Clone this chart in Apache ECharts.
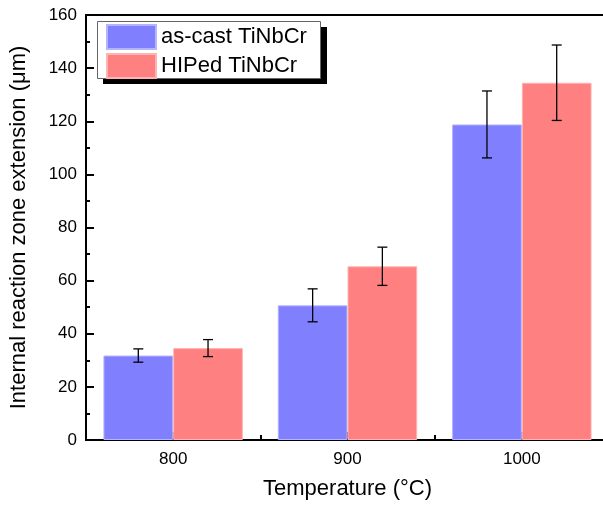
<!DOCTYPE html>
<html>
<head>
<meta charset="utf-8">
<script src="https://cdn.jsdelivr.net/npm/echarts@6/dist/echarts.min.js"></script>
<style>html,body{margin:0;padding:0;background:#fff}#c{width:603px;height:505px}</style>
</head>
<body>
<div id="c"></div>
<script>
var categories = ['800', '900', '1000'];
var seriesNames = ['as-cast TiNbCr', 'HIPed TiNbCr'];
var asCastValues = [31.8, 50.7, 118.8];
var asCastErrors = [2.5, 6.2, 12.6];
var hipedValues = [34.6, 65.4, 134.5];
var hipedErrors = [3.2, 7.2, 14.2];
var yTicks = [0, 20, 40, 60, 80, 100, 120, 140, 160];

var FONT = 'Liberation Sans, Arial, sans-serif';
var chart = echarts.init(document.getElementById('c'), null, {renderer: 'canvas'});

function errData(vals, errs) {
  return vals.map(function (v, i) { return [i, v, errs[i]]; });
}
function errRender(side) {
  return function (params, api) {
    var idx = api.value(0), v = api.value(1), e = api.value(2);
    var band = api.size([1, 0])[0];
    var off = side * band * 0.8 / 4;
    var top = api.coord([idx, v + e]);
    var bot = api.coord([idx, v - e]);
    var x = top[0] + off;
    var cap = 5;
    var st = {stroke: '#000', lineWidth: 1.3};
    return {
      type: 'group',
      children: [
        {type: 'line', shape: {x1: x, y1: top[1], x2: x, y2: bot[1]}, style: st},
        {type: 'line', shape: {x1: x - cap, y1: top[1], x2: x + cap, y2: top[1]}, style: st},
        {type: 'line', shape: {x1: x - cap, y1: bot[1], x2: x + cap, y2: bot[1]}, style: st}
      ]
    };
  };
}

var option = {
  animation: false,
  backgroundColor: '#fff',
  textStyle: {fontFamily: FONT},
  grid: {left: 86, width: 523, top: 15, bottom: 65, outerBoundsMode: 'none', containLabel: false,
         show: true, borderColor: '#000', borderWidth: 2},
  graphic: [
    {type: 'rect', left: 103, top: 27, z: 90, shape: {width: 224, height: 57}, style: {fill: '#000'}, silent: true},
    {type: 'rect', left: 97, top: 21, z: 91, shape: {width: 223, height: 57}, style: {fill: '#fff', stroke: '#666', lineWidth: 1}, silent: true}
  ],
  legend: {
    data: seriesNames,
    orient: 'vertical',
    left: 97, top: 21,
    z: 100, zlevel: 0,
    itemWidth: 49, itemHeight: 24, itemGap: 3,
    padding: [3, 12, 4, 9],
    icon: 'rect',
    textStyle: {fontSize: 22, color: '#000', fontFamily: FONT, lineHeight: 24}
  },
  xAxis: [{
    type: 'category',
    data: categories,
    position: 'bottom',
    name: 'Temperature (°C)',
    nameLocation: 'middle',
    nameGap: 38,
    nameTextStyle: {fontSize: 22, color: '#000', fontFamily: FONT},
    axisLine: {show: true, lineStyle: {color: '#000', width: 2}},
    axisTick: {show: true, inside: true, alignWithLabel: true, length: 8, lineStyle: {color: '#000', width: 2}},
    axisLabel: {fontSize: 17, color: '#000', margin: 11, fontFamily: FONT},
    splitLine: {show: false}
  }, {
    type: 'category',
    data: categories,
    position: 'bottom',
    axisLine: {show: false},
    axisTick: {show: true, inside: true, length: 5, lineStyle: {color: '#000', width: 2}},
    axisLabel: {show: false},
    splitLine: {show: false}
  }],
  yAxis: {
    type: 'value',
    min: yTicks[0], max: yTicks[yTicks.length - 1], interval: yTicks[1] - yTicks[0],
    name: 'Internal reaction zone extension (μm)',
    nameLocation: 'middle',
    nameGap: 56,
    nameTextStyle: {fontSize: 22, color: '#000', fontFamily: FONT},
    axisLine: {show: true, lineStyle: {color: '#000', width: 2}},
    axisTick: {show: true, inside: true, length: 8, lineStyle: {color: '#000', width: 2}},
    minorTick: {show: true, splitNumber: 2, length: 4, lineStyle: {color: '#000', width: 2}},
    axisLabel: {fontSize: 17, color: '#000', margin: 9, fontFamily: FONT},
    splitLine: {show: false}
  },
  series: [{
    name: seriesNames[0], type: 'bar', data: asCastValues,
    barGap: '0%', barCategoryGap: '20%',
    itemStyle: {color: '#8080ff', borderColor: '#b4b4ff', borderWidth: 1}
  }, {
    name: seriesNames[1], type: 'bar', data: hipedValues,
    barGap: '0%', barCategoryGap: '20%',
    itemStyle: {color: '#ff8080', borderColor: '#ffb4b4', borderWidth: 1}
  }, {
    type: 'custom', renderItem: errRender(-1), data: errData(asCastValues, asCastErrors), z: 10, silent: true
  }, {
    type: 'custom', renderItem: errRender(1), data: errData(hipedValues, hipedErrors), z: 10, silent: true
  }]
};
chart.setOption(option);
</script>
</body>
</html>
